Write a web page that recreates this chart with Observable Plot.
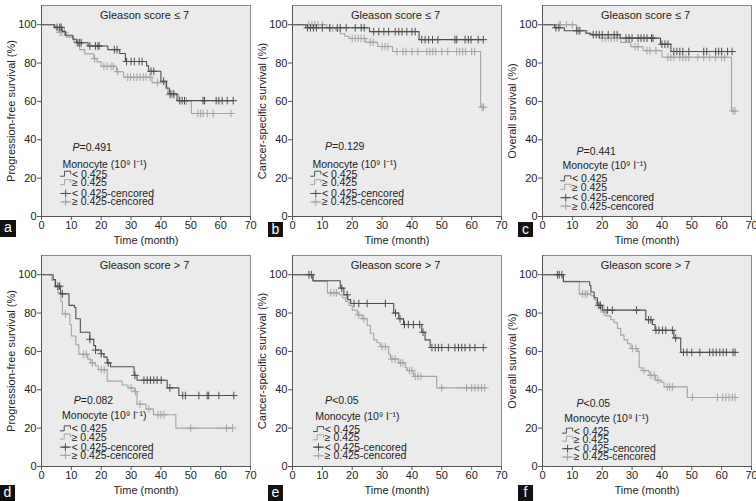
<!DOCTYPE html>
<html>
<head>
<meta charset="utf-8">
<script src="https://cdn.jsdelivr.net/npm/d3@7"></script>
<script src="https://cdn.jsdelivr.net/npm/@observablehq/plot@0.6"></script>
<style>
  html, body { margin: 0; padding: 0; background: #fff; }
  #wrap { position: relative; width: 756px; height: 501px; overflow: hidden; font-family: "Liberation Sans", Arial, sans-serif; }
  .panel { position: absolute; overflow: visible; }
  .tag { position: absolute; background: #111; color: #fff; font-size: 14px; line-height: 15px; text-align: center; width: 15px; height: 16px; }
</style>
</head>
<body>
<div id="wrap"></div>
<script>
// ---------- data ----------
const panelIds = ["a", "b", "c", "d", "e", "f"];
const titles = ["Gleason score ≤ 7", "Gleason score ≤ 7", "Gleason score ≤ 7",
                "Gleason score > 7", "Gleason score > 7", "Gleason score > 7"];
const yLabels = ["Progression-free survival (%)", "Cancer-specific survival (%)", "Overall survival (%)",
                 "Progression-free survival (%)", "Cancer-specific survival (%)", "Overall survival (%)"];
const pValues = ["=0.491", "=0.129", "=0.441", "=0.082", "<0.05", "<0.05"];
const xTicks = [0, 10, 20, 30, 40, 50, 60, 70];
const yTicks = [0, 20, 40, 60, 80, 100];
const xLabel = "Time (month)";
const legendTitle = "Monocyte (10⁹ l⁻¹)";
const legendLabels = ["< 0.425", "≥ 0.425", "< 0.425-cencored", "≥ 0.425-cencored"];

// steps: [time, survival % after event]; censors: times
const lowA = [[0,100],[4.3,98.6],[6.9,96.5],[8,94.5],[10.5,92.4],[11.7,90.6],[15.6,88.9],[22.2,87],[26.2,85],[28.1,80.8],[35.2,78.5],[35.9,75.7],[40,70.5],[41.9,67],[42.8,64],[45.4,60.4]];
const lowACens = [5.2,6.1,6.6,12.2,12.8,13.3,16.2,18.1,18.9,19.3,24.4,25.3,28.5,30,31.1,32.7,33.7,36.7,37.6,40.9,43.3,44.3,46.3,47.1,47.9,54.1,54.6,58.5,59.4,60.5,62.2,64.2];
const highA = [[0,100],[4.6,97.9],[5.8,96],[8.4,93.5],[10.8,91],[11.9,89],[12.8,87],[14.5,84.8],[17.5,82.3],[18.6,80.6],[20,78.3],[25.1,75.5],[27.5,72.6],[37,69.8],[41.6,66.7],[42.3,63.5],[46,60.1],[50.2,53.7]];
const highACens = [6.2,6.9,7.7,17.8,20.9,22,23.3,24,25.5,28.9,29.8,30.9,32,33,34.1,35,36.3,38.8,42.9,43.7,44.3,48.5,52.4,53.3,54.1,55.5,57.5,63.5];

const lowB = [[0,100],[4.5,98.4],[25.8,96.4],[42.4,92.2]];
const lowBCens = [5,6,7,8,10,12.5,15,16,18,21,23,24,27.2,28.9,30.6,32.2,34.4,35.6,36.7,38.3,40,41.1,43.3,44.4,45.6,46.9,48.7,54.4,55,57.8,58.9,59.8,62.2,63.9];
const highB = [[0,100],[11.5,98.2],[14.5,96.8],[16,95.3],[17.5,94],[19,92.8],[24.5,90.8],[28.5,88.6],[33.5,86],[63,57]];
const highBCens = [5.5,6.5,7.5,8.5,10,12.5,13.5,20,21,22,23,24,26,27,30,31,32,35,37,38,40,42,45,46,47,48,50,52,55,56,57,58,60,61,63.5,64];

const lowC = [[0,100],[4,98.4],[7.3,96.8],[14.5,95.5],[16,94.8],[26,93],[39.5,89.8],[43,86]];
const lowCCens = [4.5,5.5,11.5,12.5,17,18,19,20,22,24,25,28,29,30,32,33,34,35,36.5,37,40,41,42,44,45,46,47,49,54,55,58,59,60,62,63.5];
const highC = [[0,100],[11.4,97],[15,95.5],[16.7,94.5],[19,93],[26.2,90.8],[29.6,88.5],[33.7,86.5],[40,83],[63.3,55]];
const highCCens = [5.5,6,8,10,12,20,21,22,23,24,25,31,32,35,36,38,42,43,44,46,47,48,49,52,54,56,58,60,61,63.8,64.5];

const lowD = [[0,100],[3.9,97.5],[4.7,94],[6.4,90],[9.2,84],[11,83],[11.5,77],[13,70],[16.2,66.3],[17.5,63],[18.1,60.7],[20,58.8],[20.9,57],[22,54],[23.1,52],[31,47.5],[32,45],[42.1,41],[46,37]];
const lowDCens = [5.5,6.1,7,16.2,18.1,20,22.3,31.3,34.3,35.4,36.5,37.6,38.7,40.1,43,47.3,48.2,52.7,55.5,56,59.4,64.4];
const highD = [[0,100],[3.5,97],[4.5,93.5],[5.5,90.5],[6.5,86],[7,79.5],[9.5,74],[10,68],[11.5,63.5],[12.5,58.5],[15.5,56],[16.5,54],[18,52.5],[19,50.5],[22,44.5],[27,42.5],[29,41],[31,39],[32,32.5],[35,30],[37.5,27],[45,20]];
const highDCens = [8,14,15,17,20,21,30,31.5,33,36,39,40,41,50,62,64];

const lowE = [[0,100],[6.8,96.8],[16,93],[17.2,89.5],[18.5,87],[19.5,85],[33.9,80],[35.6,77],[37.2,74],[43.3,70],[44.4,66],[46.1,62]];
const lowECens = [5.5,6.3,16.5,18.3,20.6,22.2,25,31.1,34.5,36,37.5,38.8,40.5,42.6,43.7,46.7,47.8,48.9,50,52.2,54.4,55.6,56.7,57.8,59.4,61.1,63.9];
const highE = [[0,100],[7,96.5],[11.7,90.5],[15.6,89.5],[16.7,88],[17.8,86],[18.9,84],[20,81.5],[21.7,79],[23.3,77],[25,73.5],[26.1,69.5],[27.2,66],[28.3,64.5],[29.4,62.5],[32.2,58.5],[32.8,56],[35.6,54],[37.8,51.5],[38.5,50],[40.6,47],[48.3,41]];
const highECens = [12.8,13.9,14.7,22.2,23.9,30,31.1,33.3,34.4,36.2,37,39.2,40,41.1,42,43,50,58.3,60,61.1,62.2,63.3,64.4];

const lowF = [[0,100],[7,96.3],[15.8,94.5],[16.2,91],[17.3,88],[18.4,84],[20,81.5],[34.6,76.5],[36.8,74],[37.7,71],[44,67],[46.3,59.5]];
const lowFCens = [5,5.6,6.5,18.9,19.4,21.8,23.4,31.5,35.5,36.3,38,39,40.2,41.3,43.5,44.6,47.2,48.4,50,52.7,56,57.1,58.2,59.4,60.5,61.6,63.8,64.5];
const highF = [[0,100],[7,96.5],[12.3,90],[16.2,89],[17.3,87],[18,85],[19,83],[20.1,80.5],[21.2,78.5],[22.9,76.5],[24,75],[25.1,72],[26.2,68.5],[27.3,66],[28.5,64],[29.6,61.5],[31.8,60],[32.4,51.5],[33.3,50],[35.7,47.5],[37.9,45],[39.6,44],[40.7,41.5],[48.5,36]];
const highFCens = [13.4,14.3,15,19.5,20.6,30.1,31.3,34,36.3,37.4,38.7,41.8,42.6,43.5,50.2,58.6,60.3,61.4,62.5,63.6,64.5];

const lowSteps = [lowA, lowB, lowC, lowD, lowE, lowF];
const lowCens = [lowACens, lowBCens, lowCCens, lowDCens, lowECens, lowFCens];
const highSteps = [highA, highB, highC, highD, highE, highF];
const highCens = [highACens, highBCens, highCCens, highDCens, highECens, highFCens];

// legend anchors (data units): [y of P, y of title, y of rows...]
const legendPX = [10.4, 10.9, 11.4, 10.8, 10.9, 11.4];
const legendTitleX = [7.0, 6.7, 6.7, 6.9, 7.6, 7.3];
const legendY = [
  [36, 27, 22, 17.6, 12, 7.6],
  [36.5, 27.3, 22, 17.6, 12, 7.6],
  [34, 26.3, 19.6, 15.2, 9.8, 5.4],
  [34.4, 26.3, 19.6, 15.3, 10.1, 5.8],
  [34.4, 26.2, 19.2, 14.9, 10.1, 5.6],
  [33, 25.2, 18.4, 14.2, 9.3, 4.9]
];

// ---------- layout ----------
const lefts = [0, 251, 501, 0, 251, 501];
const tops = [0, 0, 0, 250, 250, 250];
const tagPos = [[0, 220, 16, 17], [268, 222, 15, 15], [518, 222, 15, 15], [0, 485, 15, 16], [268, 485, 15, 16], [518, 485, 15, 16]];

const darkCol = "#4e4e4e";
const lightCol = "#a4a4a4";
const legendFont = 10.5;

function survAt(steps, t) {
  let s = steps[0][1];
  for (const [ti, si] of steps) if (ti <= t) s = si;
  return s;
}
function curvePts(steps, cens) {
  const pts = steps.map(([t, s]) => ({t, s}));
  const tEnd = Math.max(steps[steps.length - 1][0], ...cens);
  pts.push({t: tEnd, s: steps[steps.length - 1][1]});
  return pts;
}

const wrap = document.getElementById("wrap");

panelIds.forEach((id, i) => {
  const ly = legendY[i];
  const symX0 = legendTitleX[i] - 0.6, symW = 3.4;
  const stepSym = (y, k) => [
    {x: symX0, y: y - 1.0, k}, {x: symX0 + 1.3, y: y - 1.0, k},
    {x: symX0 + 1.3, y: y + 1.6, k}, {x: symX0 + symW, y: y + 1.6, k},
    {x: symX0 + symW, y: y + 0.2, k}
  ];
  const symLines = [...stepSym(ly[2], 0), ...stepSym(ly[3], 1),
    {x: symX0, y: ly[4], k: 2}, {x: symX0 + symW, y: ly[4], k: 2},
    {x: symX0, y: ly[5], k: 3}, {x: symX0 + symW, y: ly[5], k: 3}];
  const rowCols = [darkCol, lightCol, darkCol, lightCol];
  const textX = symX0 + symW + 0.4;

  const plot = Plot.plot({
    width: 253,
    height: 247,
    marginLeft: 41,
    marginRight: 3,
    marginTop: 5,
    marginBottom: 31,
    x: {domain: [0, 70]},
    y: {domain: [0, 110]},
    style: {fontFamily: "'Liberation Sans', Arial, sans-serif", fontSize: "11px", color: "#222", background: "transparent", overflow: "visible"},
    marks: [
      Plot.frame({fill: "#ebebeb", stroke: "#8a8a8a"}),
      Plot.axisX({ticks: xTicks, tickSize: 4, tickPadding: 1, stroke: "#555", label: xLabel, labelAnchor: "center", labelArrow: "none", labelOffset: 27}),
      Plot.axisY({ticks: yTicks, tickSize: 4, tickPadding: 1, stroke: "#555", label: yLabels[i], labelAnchor: "center", labelArrow: "none", labelOffset: 34}),
      Plot.ruleX([0], {stroke: "#555"}),
      Plot.ruleY([0], {stroke: "#555"}),
      Plot.text([titles[i]], {x: 34.5, y: 104.8, text: d => d, fontSize: 11, textAnchor: "middle"}),
      Plot.line(curvePts(highSteps[i], highCens[i]), {x: "t", y: "s", curve: "step-after", stroke: lightCol, strokeWidth: 1.1}),
      Plot.dot(highCens[i], {x: d => d, y: d => survAt(highSteps[i], d), symbol: "plus", r: 2.6, stroke: lightCol, strokeWidth: 1}),
      Plot.line(curvePts(lowSteps[i], lowCens[i]), {x: "t", y: "s", curve: "step-after", stroke: darkCol, strokeWidth: 1.1}),
      Plot.dot(lowCens[i], {x: d => d, y: d => survAt(lowSteps[i], d), symbol: "plus", r: 2.6, stroke: darkCol, strokeWidth: 1}),
      // P value
      Plot.text(["P"], {x: legendPX[i], y: ly[0], text: d => d, fontStyle: "italic", textAnchor: "start", fontSize: legendFont}),
      Plot.text([pValues[i]], {x: legendPX[i], y: ly[0], text: d => d, textAnchor: "start", dx: 7, fontSize: legendFont}),
      // legend
      Plot.text([legendTitle], {x: legendTitleX[i], y: ly[1], text: d => d, textAnchor: "start", fontSize: legendFont}),
      Plot.line(symLines, {x: "x", y: "y", z: "k", stroke: d => rowCols[d.k], strokeWidth: 1}),
      Plot.dot([2, 3], {x: symX0 + symW / 2, y: k => ly[k + 2], symbol: "plus", r: 2.6, stroke: k => rowCols[k], strokeWidth: 1}),
      Plot.text(legendLabels, {x: textX, y: (d, j) => ly[j + 2], text: d => d, textAnchor: "start", fontSize: legendFont})
    ]
  });
  plot.classList.add("panel");
  plot.style.left = lefts[i] + "px";
  plot.style.top = tops[i] + "px";
  plot.style.overflow = "visible";
  wrap.appendChild(plot);

  const tag = document.createElement("div");
  tag.className = "tag";
  tag.textContent = id;
  const [tx, ty, tw, th] = tagPos[i];
  tag.style.left = tx + "px";
  tag.style.top = ty + "px";
  tag.style.width = tw + "px";
  tag.style.height = th + "px";
  wrap.appendChild(tag);
});
</script>
</body>
</html>
